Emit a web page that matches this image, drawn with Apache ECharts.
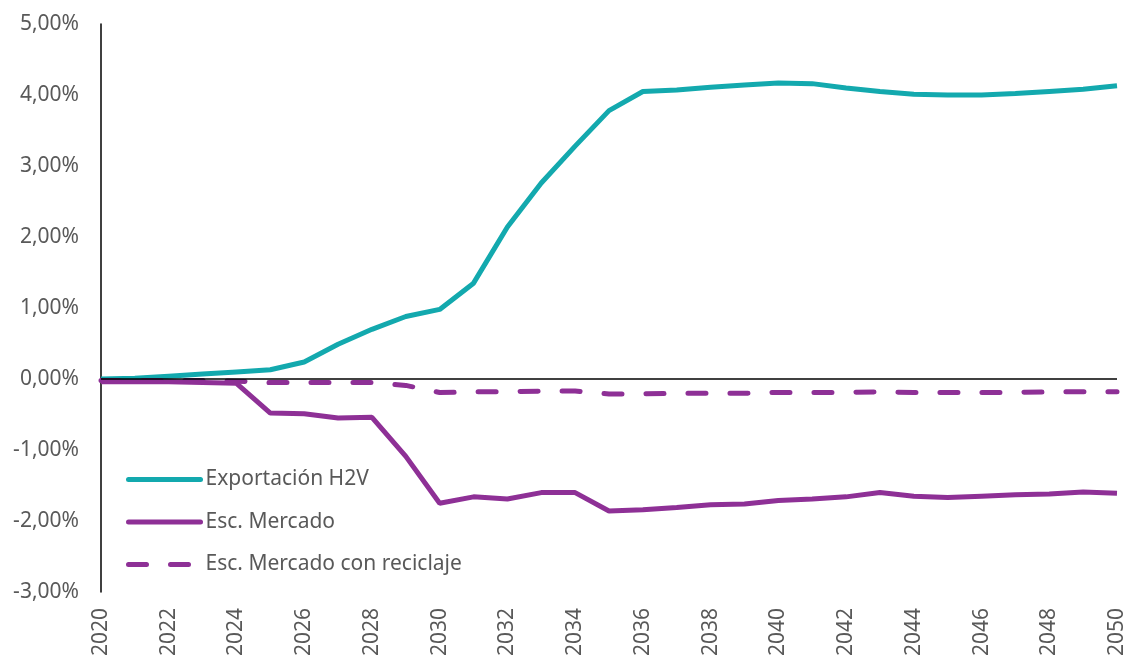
<!DOCTYPE html>
<html>
<head>
<meta charset="utf-8">
<script src="https://cdn.jsdelivr.net/npm/echarts@6/dist/echarts.min.js"></script>
<style>
  html, body { margin: 0; padding: 0; background: #fff; }
  #chartDiv { width: 1127px; height: 656px; }
</style>
</head>
<body>
<div id="chartDiv"></div>
<script>
// datos (en %)
var years = [];
for (var y = 2020; y <= 2050; y++) { years.push(String(y)); }

var exportacionH2V = [0.00, 0.01, 0.04, 0.07, 0.10, 0.13, 0.24, 0.49, 0.70, 0.88,
  0.98, 1.35, 2.14, 2.76, 3.28, 3.78, 4.05, 4.07, 4.11, 4.14,
  4.17, 4.16, 4.10, 4.05, 4.01, 4.00, 4.00, 4.02, 4.05, 4.08, 4.13];

var escMercado = [-0.04, -0.04, -0.04, -0.05, -0.06, -0.48, -0.49, -0.55, -0.54, -1.09,
  -1.75, -1.66, -1.69, -1.60, -1.60, -1.86, -1.84, -1.81, -1.77, -1.76,
  -1.71, -1.69, -1.66, -1.60, -1.65, -1.67, -1.65, -1.63, -1.62, -1.59, -1.61];

var escMercadoReciclaje = [-0.02, -0.02, -0.02, -0.02, -0.03, -0.05, -0.05, -0.05, -0.05, -0.09,
  -0.19, -0.18, -0.18, -0.17, -0.17, -0.21, -0.21, -0.20, -0.20, -0.20,
  -0.19, -0.19, -0.19, -0.18, -0.19, -0.19, -0.19, -0.19, -0.18, -0.18, -0.18];

var seriesNames = ['Exportación H2V', 'Esc. Mercado', 'Esc. Mercado con reciclaje'];

var teal = '#13A9AE';
var purple = '#8E3096';
var grey = '#595959';
var font = 'Noto Sans';

var myChart = echarts.init(document.getElementById('chartDiv'));
var option = {
  animation: false,
  grid: { left: 101, right: 10, top: 24, bottom: 64, outerBoundsMode: 'none', containLabel: false },
  legend: {
    orient: 'vertical',
    left: 121,
    top: 464,
    itemWidth: 72,
    itemHeight: 21,
    itemGap: 21.5,
    itemStyle: { opacity: 0 },
    lineStyle: { width: 5, cap: 'round' },
    textStyle: { color: grey, fontSize: 21, fontFamily: font },
    data: seriesNames
  },
  xAxis: {
    type: 'category',
    data: years,
    boundaryGap: false,
    axisLine: { show: false, onZero: false },
    axisTick: { show: false },
    axisLabel: {
      interval: 1,
      rotate: 90,
      margin: 16,
      color: grey,
      fontSize: 21,
      fontFamily: font
    }
  },
  yAxis: {
    type: 'value',
    min: -3,
    max: 5,
    interval: 1,
    axisLine: { show: true, lineStyle: { color: '#000', width: 1.5 } },
    axisTick: { show: false },
    splitLine: { show: false },
    axisLabel: {
      margin: 22,
      color: grey,
      fontSize: 21,
      fontFamily: font,
      formatter: function (v) { return v.toFixed(2).replace('.', ',') + '%'; }
    }
  },
  series: [{
    name: seriesNames[0],
    type: 'line',
    data: exportacionH2V,
    symbol: 'none',
    lineStyle: { color: teal, width: 5 },
    itemStyle: { color: teal },
    markLine: {
      silent: true,
      symbol: 'none',
      label: { show: false },
      lineStyle: { color: '#000', width: 1.5, type: 'solid' },
      data: [{ yAxis: 0 }]
    }
  }, {
    name: seriesNames[1],
    type: 'line',
    data: escMercado,
    symbol: 'none',
    lineStyle: { color: purple, width: 5 },
    itemStyle: { color: purple }
  }, {
    name: seriesNames[2],
    type: 'line',
    data: escMercadoReciclaje,
    symbol: 'none',
    lineStyle: { color: purple, width: 5, type: [18, 24], cap: 'round' },
    itemStyle: { color: purple }
  }]
};
myChart.setOption(option);
</script>
</body>
</html>
